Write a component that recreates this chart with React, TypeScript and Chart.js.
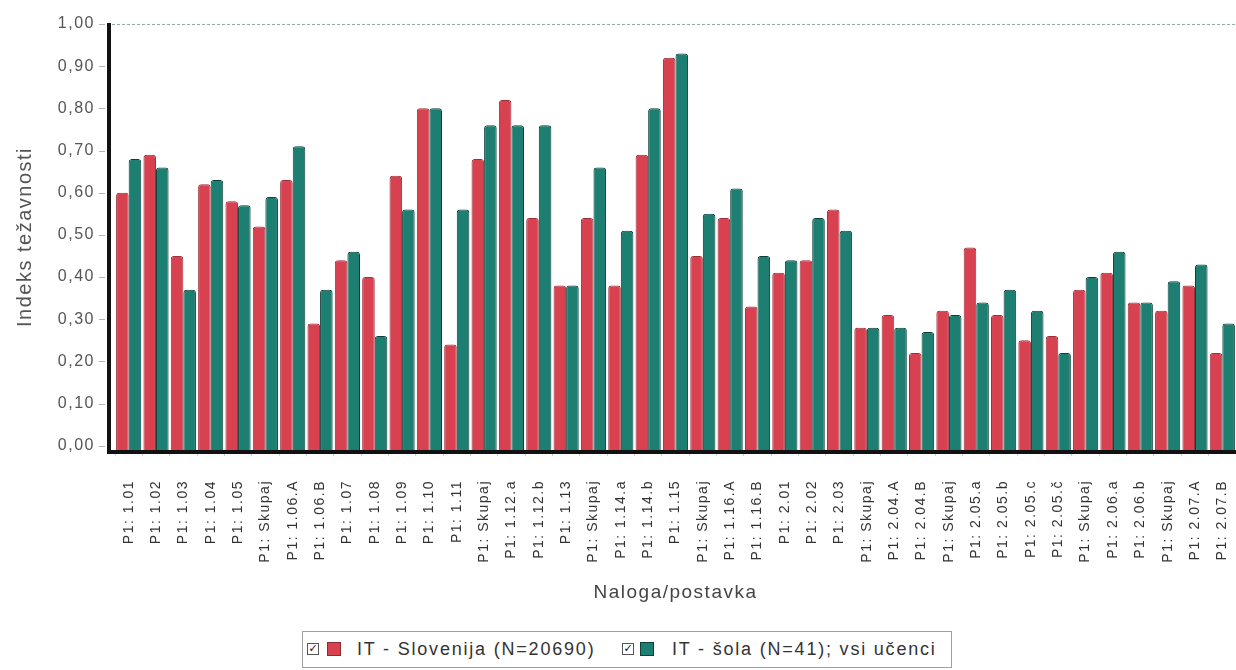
import React, { useEffect, useRef } from 'react';
import { Chart, registerables } from 'chart.js';

Chart.register(...registerables);

const categories = [
  'P1: 1.01', 'P1: 1.02', 'P1: 1.03', 'P1: 1.04', 'P1: 1.05', 'P1: Skupaj',
  'P1: 1.06.A', 'P1: 1.06.B', 'P1: 1.07', 'P1: 1.08', 'P1: 1.09', 'P1: 1.10',
  'P1: 1.11', 'P1: Skupaj', 'P1: 1.12.a', 'P1: 1.12.b', 'P1: 1.13', 'P1: Skupaj',
  'P1: 1.14.a', 'P1: 1.14.b', 'P1: 1.15', 'P1: Skupaj', 'P1: 1.16.A', 'P1: 1.16.B',
  'P1: 2.01', 'P1: 2.02', 'P1: 2.03', 'P1: Skupaj', 'P1: 2.04.A', 'P1: 2.04.B',
  'P1: Skupaj', 'P1: 2.05.a', 'P1: 2.05.b', 'P1: 2.05.c', 'P1: 2.05.č', 'P1: Skupaj',
  'P1: 2.06.a', 'P1: 2.06.b', 'P1: Skupaj', 'P1: 2.07.A', 'P1: 2.07.B',
];

const slovenija = [
  0.60, 0.69, 0.45, 0.62, 0.58, 0.52,
  0.63, 0.29, 0.44, 0.40, 0.64, 0.80,
  0.24, 0.68, 0.82, 0.54, 0.38, 0.54,
  0.38, 0.69, 0.92, 0.45, 0.54, 0.33,
  0.41, 0.44, 0.56, 0.28, 0.31, 0.22,
  0.32, 0.47, 0.31, 0.25, 0.26, 0.37,
  0.41, 0.34, 0.32, 0.38, 0.22,
];

const sola = [
  0.68, 0.66, 0.37, 0.63, 0.57, 0.59,
  0.71, 0.37, 0.46, 0.26, 0.56, 0.80,
  0.56, 0.76, 0.76, 0.76, 0.38, 0.66,
  0.51, 0.80, 0.93, 0.55, 0.61, 0.45,
  0.44, 0.54, 0.51, 0.28, 0.28, 0.27,
  0.31, 0.34, 0.37, 0.32, 0.22, 0.40,
  0.46, 0.34, 0.39, 0.43, 0.29,
];

const seriesNames = ['IT - Slovenija (N=20690)', 'IT - šola (N=41); vsi učenci'];
const yTitle = 'Indeks težavnosti';
const xTitle = 'Naloga/postavka';
const yMin = -0.01;
const yMax = 1;
const yStep = 0.1;

const RED = '#D8414F';
const GREEN = '#1C7F72';
const FONT = "'Liberation Sans', Arial, sans-serif";

export default function App() {
  const ref = useRef<HTMLCanvasElement>(null);

  useEffect(() => {
    document.body.style.margin = '0';
    const canvas = ref.current;
    if (!canvas) return;

    const spacing = {
      id: 'spacing',
      beforeUpdate(c: any) { c.ctx.letterSpacing = '1.5px'; },
      beforeDraw(c: any) { c.ctx.letterSpacing = '1.5px'; },
    };

    const frame = {
      id: 'frame',
      afterDatasetsDraw(c: any) {
        const ctx = c.ctx;
        const a = c.chartArea;
        const y = c.scales.y;
        const axisX = a.left - 8;
        ctx.save();
        ctx.strokeStyle = '#8fb0a8';
        ctx.lineWidth = 1;
        ctx.setLineDash([3, 2]);
        ctx.beginPath();
        ctx.moveTo(axisX, a.top + 0.5);
        ctx.lineTo(a.right, a.top + 0.5);
        ctx.stroke();
        ctx.setLineDash([]);
        ctx.strokeStyle = '#b5b5b5';
        y.ticks.forEach((t: any) => {
          const py = Math.round(y.getPixelForValue(t.value)) + 0.5;
          ctx.beginPath();
          ctx.moveTo(axisX - 8, py);
          ctx.lineTo(axisX - 2, py);
          ctx.stroke();
        });
        ctx.fillStyle = '#111';
        ctx.fillRect(axisX, a.top - 1, 4, a.bottom - a.top + 5);
        ctx.fillRect(axisX, a.bottom, a.right - axisX, 4);
        ctx.restore();
      },
    };

    const chart = new Chart(canvas, {
      type: 'bar',
      data: {
        labels: categories,
        datasets: [
          {
            label: seriesNames[0],
            data: slovenija,
            backgroundColor: RED,
            borderColor: '#9c2f3a',
            borderWidth: 1,
            borderRadius: 3,
            borderSkipped: 'start',
            base: yMin,
          },
          {
            label: seriesNames[1],
            data: sola,
            backgroundColor: GREEN,
            borderColor: '#0e3f38',
            borderWidth: 1,
            borderRadius: 3,
            borderSkipped: 'start',
            base: yMin,
          },
        ],
      },
      options: {
        responsive: false,
        animation: false,
        layout: { padding: { left: 7, top: 24, right: 0, bottom: 10 } },
        datasets: { bar: { categoryPercentage: 0.92, barPercentage: 1 } },
        plugins: {
          legend: { display: false },
          tooltip: { enabled: false },
        },
        scales: {
          x: {
            grid: { display: true, drawOnChartArea: false, drawTicks: true, tickLength: 6, color: '#cfcfcf' },
            border: { display: false },
            ticks: {
              autoSkip: false,
              minRotation: 90,
              maxRotation: 90,
              padding: 24,
              color: '#333',
              font: { family: FONT, size: 14 },
            },
            title: {
              display: true,
              text: xTitle,
              color: '#444',
              font: { family: FONT, size: 19 },
              padding: { top: 6, bottom: 6 },
            },
            afterFit: (s: any) => { s.height = 160; s.paddingLeft = 0; s.paddingRight = 0; },
          },
          y: {
            min: yMin,
            max: yMax,
            grid: { display: true, drawOnChartArea: false, drawTicks: false },
            border: { display: false },
            ticks: {
              stepSize: yStep,
              includeBounds: false,
              padding: 20,
              color: '#555',
              font: { family: FONT, size: 16 },
              callback: (v: any) => Number(v).toFixed(2).replace('.', ','),
            },
            title: {
              display: true,
              text: yTitle,
              color: '#555',
              font: { family: FONT, size: 20 },
              padding: { top: 6, bottom: 6 },
            },
            afterFit: (s: any) => { s.width = 108; s.paddingTop = 0; s.paddingBottom = 0; },
          },
        },
      },
      plugins: [spacing, frame],
    } as any);

    return () => { chart.destroy(); };
  }, []);

  const box = (color: string, border: string, left: number) => (
    <span style={{ position: 'absolute', left, top: 10, width: 14, height: 14, background: color, border: `1px solid ${border}`, boxSizing: 'border-box' }} />
  );
  const check = (left: number) => (
    <span style={{ position: 'absolute', left, top: 11, width: 12, height: 12, border: '1px solid #555', boxSizing: 'border-box', fontSize: 11, lineHeight: '10px', textAlign: 'center', letterSpacing: 0, fontFamily: "'DejaVu Sans', sans-serif", color: '#111', background: '#fff' }}>✓</span>
  );
  const label = (text: string, left: number) => (
    <span style={{ position: 'absolute', left, top: 0, lineHeight: '34px', whiteSpace: 'nowrap' }}>{text}</span>
  );

  return (
    <div style={{ position: 'relative', width: 1236, height: 670, background: '#fff', overflow: 'hidden' }}>
      <canvas ref={ref} width={1236} height={620} style={{ display: 'block', width: 1236, height: 620 }} />
      <div style={{ position: 'absolute', left: 302, top: 631, width: 650, height: 37, border: '1px solid #a0a0a0', boxSizing: 'border-box', fontFamily: FONT, fontSize: 18, letterSpacing: '1.8px', color: '#333' }}>
        {check(4)}
        {box(RED, '#8a2a33', 24)}
        {label(seriesNames[0], 54)}
        {check(319)}
        {box(GREEN, '#0e3f38', 337)}
        {label(seriesNames[1], 369)}
      </div>
    </div>
  );
}
